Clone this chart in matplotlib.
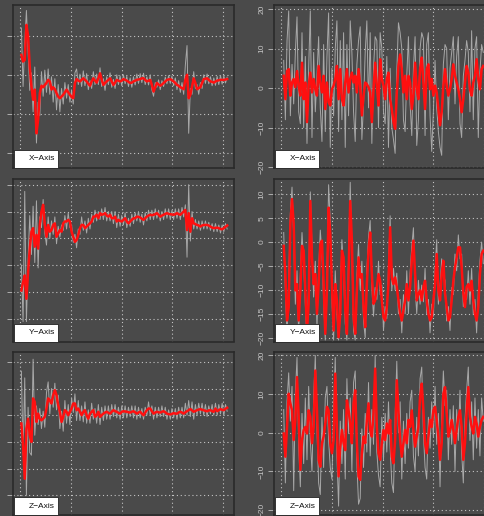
import numpy as np
import matplotlib
matplotlib.use('Agg')
import matplotlib.pyplot as plt
from matplotlib.patches import Rectangle

plt.rcParams['font.family'] = ['Liberation Sans', 'DejaVu Sans']

# ---- left column: running values (raw = gray, smooth = red) ----
x_left_smooth = [5.1, 3.4, 3.8, 12.8, 10.0, 2.1, -3.0, -6.4, -3.8, -15.0, -11.5, -4.7, -2.8, -3.2, -2.6, -2.1,
                 -1.3, -1.7, -3.8, -3.2, -3.7, -4.7, -5.6, -6.0, -5.6, -5.1, -4.5, -3.8, -4.5, -5.1, -5.7, -6.0,
                 -2.1, -1.1, -1.5, -1.7, -1.3, -0.9, -1.3, -1.7, -2.3, -2.8, -1.7, -0.9, -1.5, -2.0, -0.9, 0.4,
                 -1.3, -2.6, -2.1, -1.7, -1.3, -0.9, -1.7, -2.6, -2.0, -1.3, -1.5, -1.7, -1.5, -1.1, -1.3, -1.5,
                 -1.8, -2.1, -2.0, -1.7, -1.5, -1.3, -1.2, -1.1, -0.9, -0.9, -1.3, -1.7, -1.5, -1.3, -2.6, -4.3,
                 -3.2, -2.1, -2.5, -2.8, -2.5, -2.1, -1.7, -1.3, -1.2, -1.1, -1.4, -1.7, -2.1, -2.6, -2.8, -3.2,
                 -3.4, -3.7, -1.3, 0.0, -6.0, -5.1, -3.0, -0.9, -2.1, -3.7, -3.4, -3.2, -2.1, -1.1, -1.0, -0.9,
                 -1.3, -1.7, -1.8, -2.0, -1.7, -1.5, -1.4, -1.3, -1.3, -1.3, -1.2, -1.1]
x_left_raw = [12.0, -3.0, 8.0, 16.5, 6.0, -4.0, 0.5, -9.5, 2.0, -17.5, -7.0, -10.5, 0.8, -5.5, 1.2, -4.5,
              1.5, -5.0, -0.5, -7.0, -1.0, -9.0, -2.5, -9.5, -3.5, -7.5, -2.0, -6.0, -2.5, -7.0, -4.0, -7.5,
              0.5, 1.5, -2.5, 0.2, -3.0, 1.0, -2.8, 0.3, -3.8, -1.5, -3.5, 0.8, -2.5, 0.2, -2.5, 1.8,
              -3.0, -1.0, -4.0, -0.5, -2.5, 0.5, -3.2, -1.2, -3.5, 0.0, -2.5, -0.3, -2.8, 0.0, -2.3, -0.4,
              -3.0, -0.8, -3.2, -0.5, -2.6, 0.2, -2.2, 0.3, -2.0, 0.4, -2.5, -0.5, -2.6, 0.0, -3.8, -5.5,
              -2.0, -3.2, -1.3, -3.8, -1.5, -3.0, -0.6, -2.3, -0.2, -2.2, -0.3, -2.8, -0.8, -3.8, -1.5, -4.5,
              -2.0, -5.0, 2.5, 7.5, -15.0, -3.5, -5.0, 0.8, -3.5, -2.5, -5.0, -2.0, -3.5, 0.0, -2.2, 0.2,
              -2.3, -0.5, -2.8, -0.8, -2.7, -0.4, -2.5, -0.2, -2.4, -0.3, -2.1, -0.6]

y_left_smooth = [-19.4, -16.3, -13.8, -22.5, -12.5, -3.8, 2.5, 3.8, -3.1, 1.3, -3.8, 5.0, 10.0, 12.5, 5.0, 0.6,
                 5.0, 2.5, 3.1, 5.0, 5.6, 0.6, 1.9, 3.1, 2.5, 5.6, 6.3, 6.3, 6.9, 6.3, 2.5, 0.6,
                 -1.3, -0.6, 1.3, 3.8, 5.0, 5.0, 3.8, 4.4, 5.0, 5.6, 6.3, 8.1, 8.1, 8.8, 7.5, 9.4,
                 8.8, 9.0, 9.4, 8.5, 8.1, 8.8, 7.5, 7.5, 8.1, 6.3, 6.9, 6.5, 6.3, 6.9, 7.5, 6.3,
                 5.6, 6.3, 6.9, 7.5, 7.5, 8.1, 8.0, 7.8, 7.3, 6.9, 7.5, 8.1, 8.5, 8.8, 8.6, 8.8,
                 9.0, 9.4, 8.8, 8.1, 8.5, 8.8, 9.1, 9.4, 9.1, 9.0, 8.9, 8.8, 9.0, 9.4, 9.0, 8.8,
                 9.4, 10.0, 10.6, 3.1, 9.4, 2.5, 7.5, 5.6, 5.3, 5.0, 4.8, 4.4, 4.8, 5.0, 5.0, 5.0,
                 4.8, 4.4, 4.0, 3.8, 3.9, 4.0, 3.8, 3.5, 3.4, 3.8, 4.3, 4.8]
y_left_raw = [-10.0, -31.0, 17.5, -31.0, -8.0, 8.5, -6.0, 12.0, -9.0, 14.0, -11.0, 8.0, 4.0, 14.5, 2.0, -2.5,
              8.0, 0.0, 6.5, 1.5, 8.0, -2.0, 4.5, 0.5, 5.0, 3.0, 8.5, 3.5, 9.5, 4.0, 5.0, -1.5,
              1.5, -3.5, 3.5, 1.5, 8.0, 3.0, 6.5, 2.0, 7.5, 3.5, 9.0, 6.0, 10.5, 6.5, 10.0, 7.0,
              11.0, 7.0, 11.5, 6.5, 10.0, 6.5, 10.0, 5.5, 10.0, 4.0, 9.0, 4.5, 8.5, 5.0, 9.5, 4.0,
              7.5, 4.5, 9.0, 5.5, 9.5, 6.5, 10.0, 6.0, 9.0, 5.0, 9.5, 6.5, 10.5, 7.0, 10.5, 7.0,
              11.0, 7.5, 10.5, 6.5, 10.0, 7.0, 11.0, 7.5, 11.0, 7.0, 10.5, 7.0, 11.0, 7.5, 11.0, 7.0,
              11.5, 8.0, 12.5, -7.0, 20.0, -1.0, 10.0, 3.5, 7.0, 3.5, 6.5, 3.0, 6.5, 3.5, 6.5, 3.5,
              6.0, 3.0, 5.5, 2.5, 5.5, 2.5, 5.0, 2.0, 5.0, 2.5, 5.5, 3.5]

z_left_smooth = [-3.1, -11.3, -23.8, -5.0, -1.3, -7.5, -10.0, 6.3, 5.0, -2.5, 0.6, -1.3, -1.9, -1.3, -0.6, 2.5,
                 6.3, 5.6, 4.4, 7.5, 9.4, 7.5, 3.8, 1.3, -2.5, -0.6, 1.9, 1.3, 0.0, 1.3, 2.5, 4.4,
                 4.4, 1.9, 2.5, 1.3, 0.0, 1.3, 1.9, 0.0, -1.3, 0.6, 1.3, 1.9, -0.6, 0.0, 1.3, -0.6,
                 0.0, 0.6, 1.0, 1.3, 0.9, 0.6, 1.3, 1.9, 1.5, 1.3, 0.9, 0.6, 1.3, 1.5, 1.4, 1.3,
                 1.1, 1.0, 1.3, 1.5, 1.1, 0.6, 1.0, 1.3, 0.6, 0.0, 1.0, 1.9, 2.5, 2.5, 1.5, 0.6,
                 1.0, 1.3, 1.1, 1.0, 1.3, 1.5, 1.1, 0.6, 0.4, 0.3, 0.5, 0.8, 0.6, 0.6, 1.0, 1.3,
                 1.0, 0.6, 1.1, 1.5, 1.9, 2.3, 1.8, 1.3, 1.6, 1.9, 2.1, 2.3, 2.0, 1.9, 1.6, 1.5,
                 1.8, 1.9, 1.5, 1.3, 2.5, 1.5, 1.9, 2.3, 2.0, 1.9, 2.4, 2.8]
z_left_raw = [16.5, -15.0, 14.0, -30.0, 3.0, -14.0, -15.0, 21.0, -7.5, 3.5, -3.5, 2.5, -5.0, 1.5, -4.5, 8.5,
              12.5, 0.5, 10.0, 3.0, 12.0, 2.0, 7.5, -5.0, 1.5, -6.0, 5.5, -3.0, 4.0, -3.5, 6.5, 1.0,
              8.0, -2.0, 5.5, -2.0, 3.5, -2.5, 5.0, -3.0, 2.0, -3.0, 4.5, -1.5, 2.5, -3.0, 4.0, -3.5,
              3.0, -2.0, 3.5, -1.5, 3.5, -1.5, 4.0, -0.5, 4.0, -1.0, 3.0, -1.5, 3.5, -1.0, 3.5, -1.0,
              3.0, -0.5, 3.5, -1.0, 3.5, -1.5, 3.0, -1.0, 2.5, -1.5, 3.0, 0.0, 5.0, 0.0, 3.5, -1.5,
              3.0, -1.0, 3.0, -0.5, 3.5, -0.5, 3.0, -1.5, 2.0, -1.5, 2.5, -1.0, 2.5, -1.5, 3.0, -1.0,
              3.0, -1.0, 4.5, 0.0, 5.5, -0.5, 5.0, -1.5, 4.0, 0.0, 4.5, 0.5, 4.5, 0.0, 4.0, -0.5,
              3.5, 0.5, 4.0, 0.0, 4.5, 0.0, 4.0, 0.5, 4.5, 0.0, 4.0, 1.5]

# ---- right column: raw signal (gray) and filtered signal (red) ----
x_right_smooth = [3.1, -2.8, 4.3, 4.8, -1.9, 1.4, 2.3, 0.2, 4.3, 0.6, -1.9, 6.4, -2.8, 1.4, -8.6, 0.6,
                  3.9, -1.1, 2.3, -0.3, -1.9, 5.6, 1.4, -1.1, 3.1, -5.3, 1.4, -3.6, -4.4, -0.3, 0.6, 2.3,
                  5.6, -2.8, 4.8, -2.8, -4.4, 1.4, 4.8, -1.1, 2.3, 3.9, 1.4, 3.1, -1.1, 4.8, 0.6, -6.9,
                  -1.9, 1.4, 1.0, 0.2, -1.1, -8.6, -0.3, 6.4, 0.6, -4.4, 7.3, 2.3, 0.6, -2.8, 2.3, 3.9,
                  -2.8, -5.3, -8.6, -10.3, -1.1, 5.6, 8.5, 4.8, -1.1, 3.1, -2.8, 3.1, 1.4, -5.3, -1.9, 6.4,
                  -0.3, -2.8, 4.8, 7.7, 1.4, -5.3, 4.8, 6.0, -0.3, 2.3, -1.9, 0.6, -1.1, -5.3, -9.4, -6.1,
                  0.6, 4.8, 0.6, -1.9, -0.3, 2.3, 6.0, 3.1, 1.4, -0.3, -2.8, -6.1, -2.8, 1.4, 5.6, 3.9,
                  -0.3, -1.9, 1.4, 3.1, 7.3, 2.3, -0.3, 4.8, 5.6]
x_right_raw = [7.0, -8.0, 12.0, 19.5, -7.0, 6.0, -4.0, 9.0, 18.0, -6.0, -9.0, 14.0, -10.0, 8.0, -14.0, 5.0,
               19.5, -12.5, 9.0, -6.0, 3.0, 13.0, -5.0, -13.5, 11.0, -11.0, 8.0, 19.0, -15.0, 5.0, -7.0, 10.0,
               17.0, -11.0, 12.0, -8.0, 14.0, -15.0, 11.0, -7.0, 17.0, 9.0, -6.0, -13.5, 6.0, 12.0, 15.5, -13.0,
               -4.0, 9.0, 17.0, -5.0, 14.0, -14.0, 5.0, 13.0, 12.0, -10.0, 14.0, 10.0, -6.0, -9.0, 8.0, -15.0,
               5.0, -10.0, -13.0, -16.5, 4.0, 16.5, 14.0, 10.0, -8.0, -11.0, 3.0, 13.0, -4.0, -12.0, 5.0, 13.0,
               -14.5, -8.0, 10.0, 14.0, 12.5, -12.0, 11.0, 14.0, -7.0, -16.0, -6.0, 7.0, -5.0, -11.0, -15.0, -17.0,
               6.0, 11.0, 10.0, -8.0, 5.0, 9.0, 13.0, -4.0, 8.0, 13.0, -9.0, -12.5, 3.0, 7.0, 12.0, 9.0,
               -6.0, 14.5, -8.0, 10.0, 13.0, -12.5, 4.0, 11.0, 9.0]

y_right_smooth = [-0.8, -6.7, -16.4, -13.6, 3.8, 9.0, 3.8, -10.1, -8.8, -16.4, -10.1, -0.8, -1.8, -10.1, -18.5, -12.9,
                  8.6, -3.2, -8.8, -6.7, -15.0, -8.8, -0.4, 0.3, -8.8, -19.2, -10.1, 7.2, 1.7, -8.8, -18.5, -8.8,
                  -12.2, -19.9, -15.0, -1.8, -3.2, -14.3, -19.2, -6.7, 8.6, 0.3, -15.7, -19.2, -10.1, -3.2, -7.4, -6.7,
                  -13.6, -17.8, -8.8, -1.8, 2.0, -6.7, -12.9, -12.2, -9.4, -6.7, -8.1, -12.2, -15.7, -16.4, -13.6, -8.8,
                  3.1, -7.4, -8.8, -7.4, -9.4, -12.2, -15.0, -16.4, -14.3, -12.2, -8.8, -12.2, -9.4, -3.9, 0.3, -6.7,
                  -12.2, -10.8, -10.1, -12.2, -9.4, -8.1, -12.2, -15.0, -16.4, -15.7, -12.2, -8.8, -2.5, -10.1, -12.2, -6.7,
                  -3.9, -10.8, -13.6, -16.4, -15.7, -12.2, -8.1, -5.3, -3.2, -1.1, -1.1, -5.3, -10.8, -13.6, -9.4, -8.8,
                  -10.1, -8.1, -12.2, -15.0, -16.4, -13.6, -6.7, -2.5, -1.8]
y_right_raw = [2.0, -10.0, -19.5, -8.0, 6.0, 11.5, 1.0, -13.0, -6.0, -19.5, -7.0, 2.0, -4.5, -13.0, -20.5, -9.0,
               10.5, -1.0, -11.5, -4.0, -18.0, -6.0, 2.5, -2.5, -12.0, -20.5, -7.0, 12.0, 4.0, -12.0, -20.5, -6.0,
               -15.0, -20.5, -12.0, 0.5, -6.0, -17.0, -20.5, -3.0, 12.5, -3.0, -18.5, -20.5, -7.0, -0.5, -10.0, -4.0,
               -16.5, -20.0, -6.0, 1.0, 4.5, -9.5, -15.5, -9.5, -12.0, -4.0, -11.0, -9.0, -18.5, -13.5, -16.0, -5.5,
               5.5, -10.0, -5.5, -10.0, -6.5, -15.0, -12.0, -19.0, -11.0, -15.0, -6.0, -15.0, -6.5, -1.0, 3.0, -9.5,
               -15.0, -8.0, -13.0, -9.0, -12.5, -5.5, -15.0, -12.0, -19.0, -13.0, -15.5, -6.0, 0.5, -13.0, -9.5, -3.5,
               -7.0, -8.0, -16.5, -13.5, -18.5, -9.5, -11.0, -2.5, -6.0, 1.5, -3.5, -2.5, -13.5, -10.5, -12.0, -6.0,
               -13.0, -5.5, -15.0, -12.0, -19.0, -10.5, -4.0, 0.0, -4.5]

z_right_smooth = [-0.2, -6.2, 1.5, 10.1, 7.6, 5.8, -1.9, 3.3, 14.4, 4.1, -9.6, -1.9, 0.7, 1.5, -0.2, 5.8,
                  4.1, -2.7, 1.5, 16.1, 5.8, -7.0, -8.8, -2.7, -1.0, 2.4, 6.7, 5.8, -2.7, -5.3, -1.9, 15.3,
                  1.5, -11.3, -3.6, 0.7, -2.7, -4.5, 8.4, 5.8, 2.4, -2.7, 7.6, 11.0, -2.7, -11.3, -12.2, -5.3,
                  -1.0, -2.7, 3.3, 7.6, 0.7, -1.0, 5.0, 16.6, 1.5, -5.3, -7.0, -2.7, 0.7, -1.9, 2.4, -0.2,
                  3.3, -6.2, -7.9, -1.9, 13.6, 5.8, -1.9, -6.2, -2.7, 0.7, -2.7, 3.3, 1.5, 5.8, 0.7, -3.6,
                  -1.0, 1.5, 9.3, 12.7, 5.8, -2.7, -5.3, -1.0, 3.3, 1.5, 5.8, 6.7, 3.3, -1.0, -7.0, -2.7,
                  10.1, 11.8, 5.0, -1.0, 0.7, 3.3, 0.7, -2.7, 0.7, 4.1, 5.8, 1.5, -7.0, -2.7, 5.8, 11.8,
                  4.1, 1.5, -0.2, 4.1, 2.4, -1.0, 1.5, 3.3, 4.1]
z_right_raw = [6.0, -13.0, 8.0, 15.5, 3.0, 12.0, -15.0, 10.0, 19.5, -3.0, -14.0, 5.0, -8.0, 9.0, -7.0, 12.0,
               -2.0, -10.0, 9.0, 20.0, 1.0, -13.0, -16.0, 4.0, -9.0, 9.0, 12.0, -2.0, -9.0, -12.0, 6.0, 19.5,
               -6.0, -19.0, 3.0, -8.0, 6.0, -12.0, 14.0, 0.0, 9.0, -10.0, 13.0, 16.0, -8.0, -18.5, -17.0, 1.0,
               -9.0, 5.0, -5.0, 13.0, -6.0, 6.0, -3.0, 20.0, -5.0, -11.0, -14.0, 4.0, -7.0, 5.0, -5.0, 8.0,
               -4.0, -13.0, -15.5, 4.0, 18.5, 0.0, 8.0, -12.0, 3.0, -8.0, 5.0, -4.0, 8.0, 11.0, -6.0, -10.0,
               4.0, -6.0, 14.0, 17.0, 0.0, -9.0, -12.0, 4.0, -4.0, 8.0, -1.0, 12.0, -3.0, 5.0, -14.0, 4.0,
               16.0, 7.0, 11.0, -7.0, 6.0, -3.0, 7.0, -10.0, 6.0, -2.0, 11.0, -5.0, -13.0, 3.0, 11.0, 17.0,
               -2.0, 8.0, -7.0, 9.0, -4.0, 6.0, -6.0, 9.0, 3.0]

labels = ['X\u2212Axis', 'Y\u2212Axis', 'Z\u2212Axis']
x_ticks = [0, 100, 200, 300, 400]

W, H = 484, 516
bg = '#4a4a4a'
fig = plt.figure(figsize=(W / 100, H / 100), dpi=100, facecolor=bg)


def px_axes(x0, y0, w, h):
    # pixel box (top-left origin) -> figure fraction
    return fig.add_axes([x0 / W, 1 - (y0 + h) / H, w / W, h / H])


def panel(ax, t, raw, smooth, ylim, yticks, label, show_labels=True):
    ax.set_facecolor(bg)
    ax.plot(t, raw, color='#a8a8a8', lw=0.7)
    ax.plot(t, smooth, color='#ff1010', lw=1.8)
    ax.set_xlim(-14.6, 422.5)
    ax.set_ylim(*ylim)
    ax.set_xticks(x_ticks)
    ax.set_yticks(yticks)
    ax.grid(True, color='#c4c4c4', ls=(0, (1, 2.5)), lw=0.8)
    ax.set_axisbelow(True)
    ax.tick_params(axis='x', length=0, labelbottom=False)
    ax.tick_params(axis='y', length=4, width=0.6, color='#bdbdbd', labelcolor='#c4c4c4',
                   labelsize=6, pad=2, labelleft=show_labels)
    for lab in ax.get_yticklabels():
        lab.set_rotation(90)
        lab.set_va('center')
    for s in ax.spines.values():
        s.set_color('#2a2a2a')
        s.set_linewidth(1.2)
    # legend-like white box in the bottom left corner
    ax.add_patch(Rectangle((0.004, 0.0), 44 / 221, 18 / 163, transform=ax.transAxes,
                           facecolor='white', edgecolor='#222222', lw=0.6, zorder=5))
    ax.text(0.13, 9 / 163, label, transform=ax.transAxes, ha='center', va='center',
            fontsize=6, color='#111111', zorder=6)


pw, ph = 221, 163
rows = [5, 178.5, 352]

left = [(x_left_raw, x_left_smooth, (-23.9, 17.9), [-20, -10, 0, 10]),
        (y_left_raw, y_left_smooth, (-38.4, 22.3), [-30, -20, -10, 0, 10, 20]),
        (z_left_raw, z_left_smooth, (-37.4, 23.7), [-30, -20, -10, 0, 10, 20])]
right = [(x_right_raw, x_right_smooth, (-20.2, 21.0), [-20, -10, 0, 10, 20]),
         (y_right_raw, y_right_smooth, (-20.8, 13.3), [-20, -15, -10, -5, 0, 5, 10]),
         (z_right_raw, z_right_smooth, (-21.3, 20.9), [-20, -10, 0, 10, 20])]

for i in range(3):
    # left column: its tick labels fall outside the picture, only the ticks show
    raw, smooth, yl, yt = left[i]
    ax = px_axes(13, rows[i], pw, ph)
    panel(ax, np.linspace(2, 409, len(raw)), raw, smooth, yl, yt, labels[i], show_labels=False)

    raw, smooth, yl, yt = right[i]
    ax = px_axes(274, rows[i], pw, ph)
    panel(ax, np.linspace(4.6, 399.3, len(raw)), raw, smooth, yl, yt, labels[i])

fig.savefig('out.png', dpi=100, facecolor=bg)
